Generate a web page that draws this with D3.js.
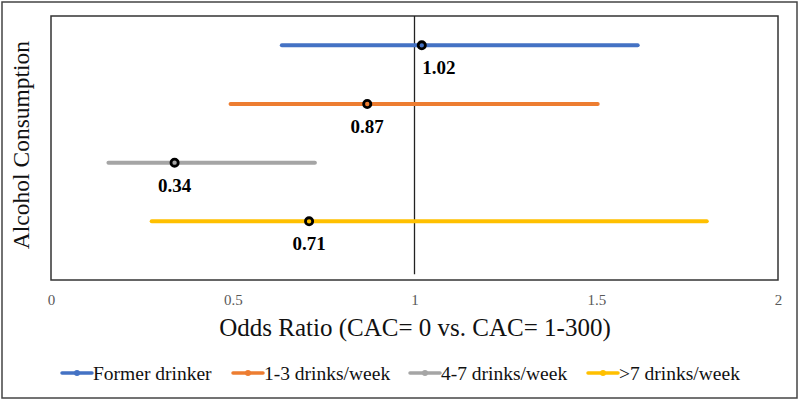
<!DOCTYPE html>
<html><head><meta charset="utf-8">
<script src="https://cdn.jsdelivr.net/npm/d3@7"></script>
<style>body{margin:0;background:#fff}svg{display:block}</style>
</head><body>
<svg id="c" width="800" height="402"></svg>
<script>
const categories = ["Former drinker", "1-3 drinks/week", "4-7 drinks/week", ">7 drinks/week"];
const oddsRatio = [1.02, 0.87, 0.34, 0.71];
const lowerCI = [0.635, 0.494, 0.158, 0.277];
const upperCI = [1.614, 1.504, 0.726, 1.804];
const rowPos = [4, 3, 2, 1];
const colors = ["#4472C4", "#ED7D31", "#A5A5A5", "#FFC000"];
const xTicks = [0, 0.5, 1, 1.5, 2];
const xTickLabels = ["0", "0.5", "1", "1.5", "2"];

const svg = d3.select("#c");
const serif = "'Liberation Serif','Times New Roman',serif";
const L = 51, R = 778, T = 16, B = 280;
const x = d3.scaleLinear().domain([0, 2]).range([L, R]);
const y = d3.scaleLinear().domain([0, 4.5]).range([B, T]);

// outer border
svg.append("rect").attr("x", 2).attr("y", 2).attr("width", 795).attr("height", 396)
  .attr("fill", "none").attr("stroke", "#444").attr("stroke-width", 1.5);

// plot box
svg.append("rect").attr("x", L).attr("y", T).attr("width", R - L).attr("height", B - T)
  .attr("fill", "none").attr("stroke", "#333").attr("stroke-width", 1.5);

// x axis tick labels
const xAxis = d3.axisBottom(x).tickValues(xTicks).tickFormat((d, i) => xTickLabels[i]).tickSize(0).tickPadding(0);
const gx = svg.append("g").attr("transform", `translate(0,${B})`).call(xAxis);
gx.select(".domain").remove();
gx.selectAll("text").attr("font-family", serif).attr("font-size", 15).attr("fill", "#595959")
  .attr("dy", null).attr("y", 25);

// reference line at 1
svg.append("line").attr("x1", x(1)).attr("x2", x(1)).attr("y1", y(4.5)).attr("y2", y(0.1))
  .attr("stroke", "#222").attr("stroke-width", 1.3);

// CI lines
const rows = categories.map((c, i) => ({c, or: oddsRatio[i], lo: lowerCI[i], hi: upperCI[i], yv: rowPos[i], col: colors[i], i}));
svg.selectAll(".ci").data(rows).join("line")
  .attr("x1", d => x(d.lo)).attr("x2", d => x(d.hi))
  .attr("y1", d => y(d.yv)).attr("y2", d => y(d.yv))
  .attr("stroke", d => d.col).attr("stroke-width", 4).attr("stroke-linecap", "round");

// point markers
svg.selectAll(".pt").data(rows).join("circle")
  .attr("cx", d => x(d.or)).attr("cy", d => y(d.yv)).attr("r", 3.6)
  .attr("fill", d => d.col).attr("stroke", "#000").attr("stroke-width", 2.8);

// value labels
svg.selectAll(".lbl").data(rows).join("text")
  .attr("x", d => x(d.or) + (d.i === 0 ? 17 : 0)).attr("y", d => y(d.yv) + 29)
  .attr("text-anchor", "middle").attr("font-family", serif).attr("font-weight", "bold")
  .attr("font-size", 19).attr("fill", "#000").text(d => d.or.toFixed(2));

// axis titles
svg.append("text").attr("x", 415).attr("y", 336).attr("text-anchor", "middle")
  .attr("font-family", serif).attr("font-size", 25).attr("fill", "#111")
  .text("Odds Ratio (CAC= 0 vs. CAC= 1-300)");
svg.append("text").attr("transform", "translate(29,145) rotate(-90)").attr("text-anchor", "middle")
  .attr("font-family", serif).attr("font-size", 23.5).attr("fill", "#111")
  .text("Alcohol Consumption");

// legend
const legX = [62, 233, 410, 588];
const lg = svg.selectAll(".leg").data(rows).join("g")
  .attr("transform", (d, i) => `translate(${legX[i]},373)`);
lg.append("line").attr("x1", 0).attr("x2", 30).attr("y1", 0).attr("y2", 0)
  .attr("stroke", d => d.col).attr("stroke-width", 3.5).attr("stroke-linecap", "round");
lg.append("circle").attr("cx", 15).attr("cy", 0).attr("r", 3).attr("fill", d => d.col);
lg.append("text").attr("x", 31).attr("y", 7).attr("font-family", serif).attr("font-size", 19.5)
  .attr("fill", "#111").text(d => d.c);
</script>
</body></html>
